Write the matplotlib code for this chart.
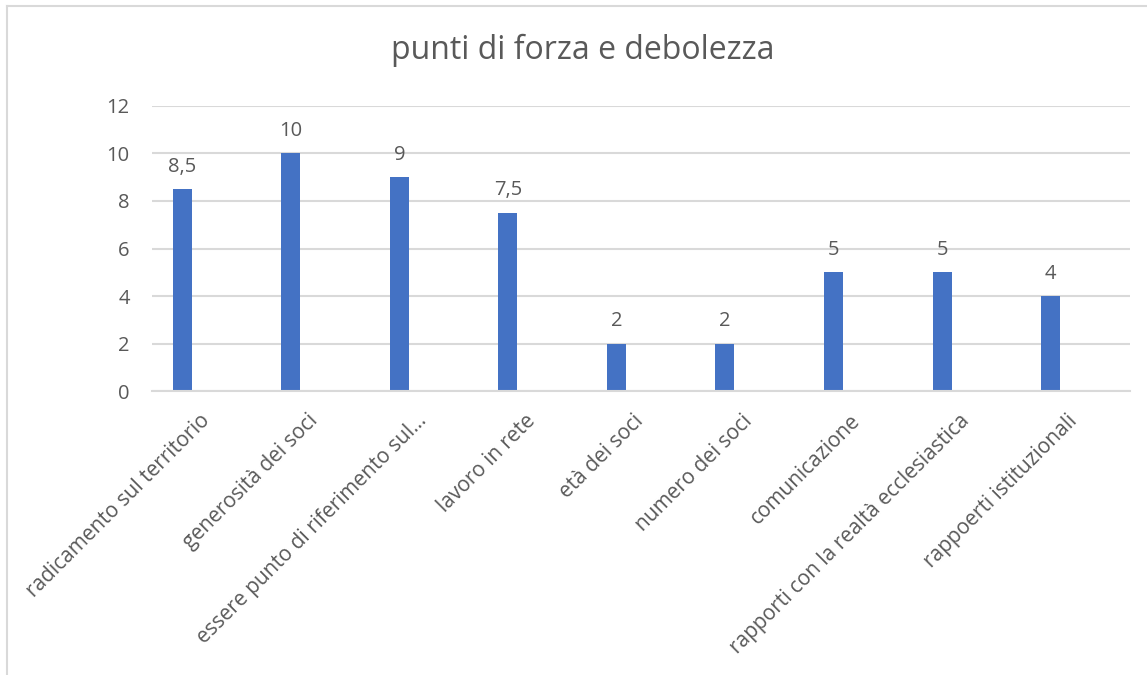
import matplotlib.pyplot as plt
import matplotlib.transforms as mtransforms
from matplotlib.lines import Line2D

plt.rcParams['font.family'] = ['Open Sans', 'DejaVu Sans']

categories = [
    "radicamento sul territorio",
    "generosità dei soci",
    "essere punto di riferimento sul...",
    "lavoro in rete",
    "età dei soci",
    "numero dei soci",
    "comunicazione",
    "rapporti con la realtà ecclesiastica",
    "rappoerti istituzionali",
]
values = [8.5, 10, 9, 7.5, 2, 2, 5, 5, 4]
value_labels = ["8,5", "10", "9", "7,5", "2", "2", "5", "5", "4"]
yticks = [0, 2, 4, 6, 8, 10, 12]

text_color = "#595959"
grid_color = "#D9D9D9"
bar_color = "#4472C4"

fig = plt.figure(figsize=(11.47, 6.75), dpi=100)
ax = fig.add_axes([0.1325, 0.4207, 0.8525, 0.4223])

x = list(range(len(categories)))
ax.bar(x, values, width=0.175, color=bar_color, zorder=2)

for xi, v, lab in zip(x, values, value_labels):
    ax.annotate(lab, (xi, v), xytext=(0, 9), textcoords="offset points",
                ha="center", va="bottom", fontsize=14.5, color=text_color)

ax.set_xlim(-0.28, 8.73)
ax.set_ylim(0, 12)
ax.set_yticks(yticks)
ax.set_yticklabels([str(t) for t in yticks], fontsize=14.5, color=text_color)
ax.yaxis.grid(True, color=grid_color, linewidth=1.5, zorder=0)
ax.tick_params(axis="y", length=0, pad=16)
ax.tick_params(axis="x", length=0)
for s in ["top", "right", "left"]:
    ax.spines[s].set_visible(False)
ax.spines["bottom"].set_color(grid_color)
ax.spines["bottom"].set_linewidth(1.5)

ax.set_xticks(x)
ax.set_xticklabels(categories, rotation=45, ha="right", va="center",
                   rotation_mode="anchor", fontsize=15, color=text_color)
offset = mtransforms.ScaledTranslation(0.24, -0.22, fig.dpi_scale_trans)
for lbl in ax.get_xticklabels():
    lbl.set_transform(lbl.get_transform() + offset)

fig.text(0.5085, 0.925, "punti di forza e debolezza", ha="center", va="center",
         fontsize=23, color=text_color)

# chart border (cropped on right and bottom)
W, H = 1147, 675
fig.add_artist(Line2D([7 / W, 1], [1 - 6 / H, 1 - 6 / H], transform=fig.transFigure,
                      color=grid_color, linewidth=1.5))
fig.add_artist(Line2D([7 / W, 7 / W], [0, 1 - 6 / H], transform=fig.transFigure,
                      color=grid_color, linewidth=1.5))

fig.savefig("out.png", dpi=100, facecolor="white")
